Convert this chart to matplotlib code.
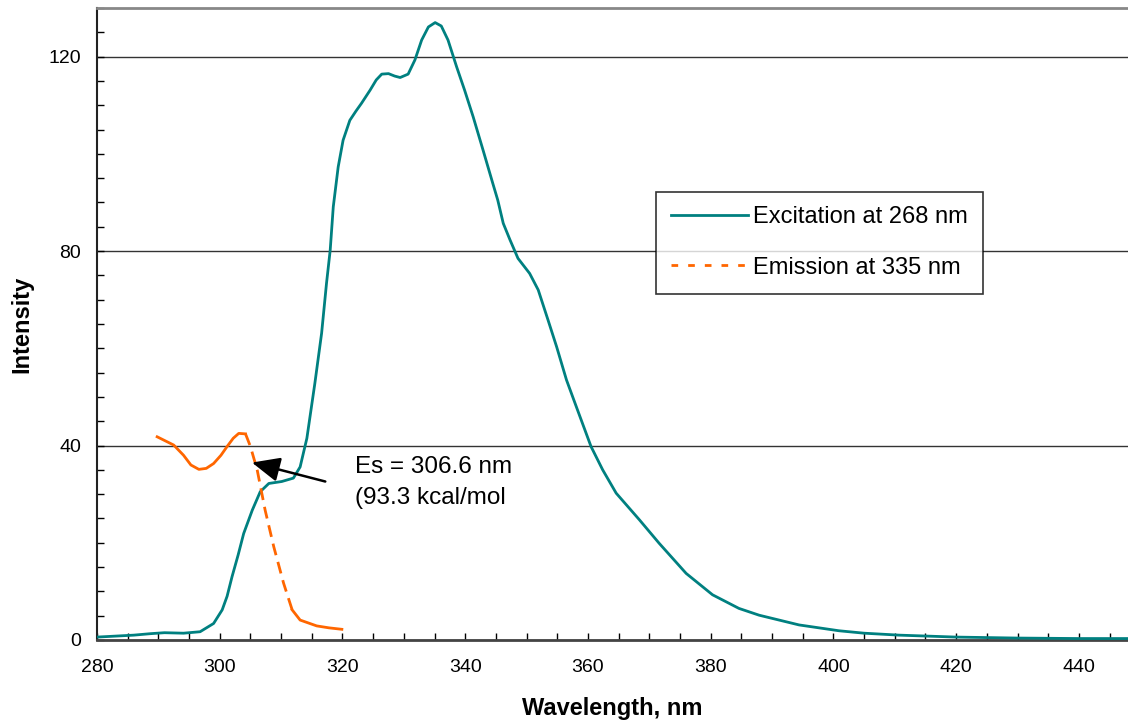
import matplotlib
matplotlib.use("Agg")
import matplotlib.pyplot as plt
from matplotlib.ticker import MultipleLocator
from matplotlib.lines import Line2D

plt.rcParams['font.family'] = ['Liberation Sans', 'DejaVu Sans']

# Excitation at 268 nm
exc_x = [280, 283, 286, 288.7, 291, 294.1, 296.8, 299.0, 300.4, 301.2, 302.0, 303.0,
         303.9, 305.3, 306.6, 308.0, 310.1, 312.0, 313.1, 314.2, 315.5, 316.6, 317.4,
         318.0, 318.5, 319.3, 320.1, 321.2, 322.2, 323.1, 324.5, 325.5, 326.4, 327.5,
         328.5, 329.4, 330.7, 331.8, 332.9, 334.0, 335.1, 336.1, 337.2, 338.6, 339.9,
         341.3, 342.9, 344.5, 345.3, 346.2, 347.3, 348.6, 350.5, 351.9, 353.5, 354.9,
         356.5, 358.1, 360.5, 362.4, 364.6, 368.4, 371.6, 376.0, 380.3, 384.6, 387.9,
         394.4, 400.9, 405.0, 410.7, 420.0, 430.0, 440.0, 448.0]
exc_y = [0.6, 0.8, 1.0, 1.3, 1.5, 1.4, 1.7, 3.4, 6.2, 9.0, 13.0, 17.5,
         21.9, 26.7, 30.5, 32.2, 32.6, 33.3, 35.6, 41.5, 52.8, 63.1, 73.4,
         80.2, 89.1, 97.3, 102.8, 106.9, 108.8, 110.4, 113.1, 115.2, 116.4, 116.5,
         116.0, 115.7, 116.4, 119.3, 123.4, 126.1, 127.0, 126.3, 123.4, 117.9, 113.1,
         107.6, 100.8, 93.9, 90.5, 85.7, 82.3, 78.5, 75.4, 72.0, 65.8, 60.3,
         53.5, 48.0, 39.8, 35.0, 30.2, 24.7, 19.9, 13.7, 9.3, 6.5, 5.1,
         3.1, 1.9, 1.4, 1.0, 0.6, 0.4, 0.3, 0.3]

# Emission at 335 nm
em_x = [289.8, 292.5, 294.1, 295.3, 296.6, 297.8, 299.0, 300.2, 301.2, 302.2, 303.1,
        304.2, 305.0, 306.1, 307.4, 308.8, 310.4, 311.8, 313.1, 315.8, 317.8, 319.9]
em_y = [41.8, 40.1, 38.0, 36.0, 35.1, 35.3, 36.3, 38.0, 39.8, 41.5, 42.5,
        42.4, 39.8, 35.0, 26.7, 19.2, 11.7, 6.2, 4.1, 2.9, 2.5, 2.2]

x_ticks = [280, 300, 320, 340, 360, 380, 400, 420, 440]
y_ticks = [0, 40, 80, 120]

teal = '#008080'
orange = '#FF6600'
LW = 2.0

W, H = 1128, 721
fig = plt.figure(figsize=(W/100, H/100), dpi=100)
ax = fig.add_axes([97/W, 81/H, 1 - 97/W, (640-8)/H])

ax.plot(exc_x, exc_y, color=teal, lw=LW, zorder=3, solid_joinstyle='round')
# emission: Excel draws short segments solid, long steep ones dashed
ax.plot(em_x[:12], em_y[:12], color=orange, lw=LW, zorder=3, solid_joinstyle='round')
ax.plot(em_x[11:18], em_y[11:18], color=orange, lw=LW, ls=(0, (4.3, 2.5)), zorder=3)
ax.plot(em_x[17:], em_y[17:], color=orange, lw=LW, zorder=3, solid_joinstyle='round')

ax.set_xlim(280, 448)
ax.set_ylim(0, 130)
ax.set_xticks(x_ticks)
ax.set_yticks(y_ticks)
ax.xaxis.set_minor_locator(MultipleLocator(5))
ax.yaxis.set_minor_locator(MultipleLocator(5))
ax.tick_params(which='both', direction='in', length=5, width=1, labelsize=14, colors='black')
ax.tick_params(axis='x', which='major', pad=14)
ax.tick_params(axis='y', which='major', pad=11.5)
ax.grid(axis='y', which='major', color='#333333', lw=1.0)
ax.set_axisbelow(True)

ax.spines['right'].set_visible(False)
ax.spines['top'].set_color('#888888')
ax.spines['top'].set_linewidth(2)
ax.spines['left'].set_color('#222222')
ax.spines['left'].set_linewidth(1.5)
ax.spines['bottom'].set_color('#444444')
ax.spines['bottom'].set_linewidth(2)

ax.set_xlabel('Wavelength, nm', fontsize=17, fontweight='bold', va='center')
ax.xaxis.set_label_coords(0.5, (640 - 708) / 632)
ax.set_ylabel('Intensity', fontsize=17, fontweight='bold', va='center')
ax.yaxis.set_label_coords((22 - 97) / 1031, 0.5)

ax.annotate('', xy=(305.25, 36.5), xytext=(317.2, 32.6),
            arrowprops=dict(arrowstyle='-|>,head_length=1.7,head_width=0.75',
                            mutation_scale=10, color='black', lw=1.8,
                            shrinkA=0, shrinkB=0))
ax.text(322.0, 35.6, 'Es = 306.6 nm', fontsize=17.5, va='center', ha='left')
ax.text(322.0, 29.3, '(93.3 kcal/mol', fontsize=17.5, va='center', ha='left')

handles = [Line2D([], [], color=teal, lw=LW),
           Line2D([], [], color=orange, lw=LW, ls=(0, (2.4, 3.6)))]
labels = ['Excitation at 268 nm', 'Emission at 335 nm']
leg = ax.legend(handles, labels, loc='upper left', bbox_to_anchor=(656/W, 1 - 191.5/H),
                bbox_transform=fig.transFigure, fontsize=17, frameon=True,
                fancybox=False, edgecolor='black', handlelength=3.26,
                handletextpad=0.22, borderpad=0.63, labelspacing=1.2, borderaxespad=0)
leg.get_frame().set_linewidth(1.2)

fig.savefig('out.png', dpi=100)
